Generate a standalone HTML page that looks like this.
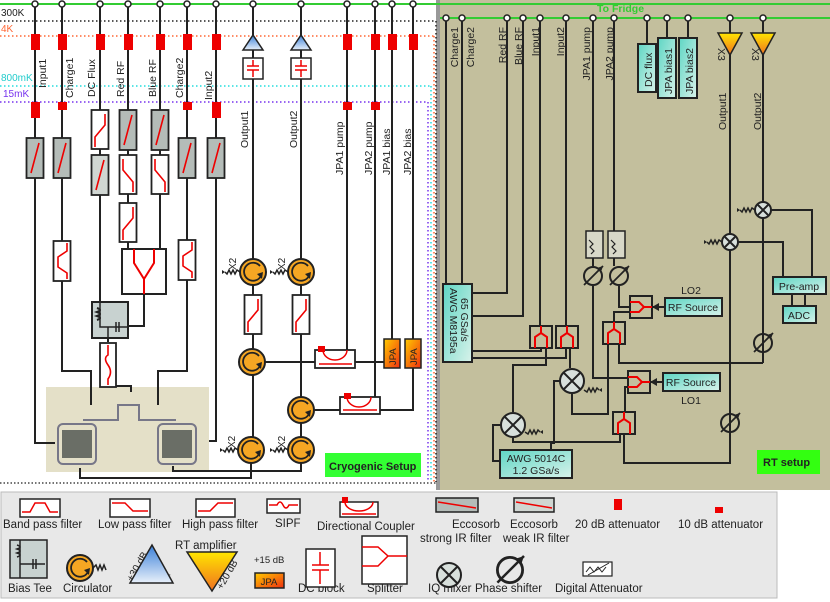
<!DOCTYPE html>
<html><head><meta charset="utf-8"><style>
html,body{margin:0;padding:0;background:#fff}
svg{display:block;font-family:"Liberation Sans",sans-serif}
</style></head><body>
<svg width="830" height="602" viewBox="0 0 830 602" xmlns="http://www.w3.org/2000/svg">
<defs>
<linearGradient id="teal" x1="0" y1="0" x2="1" y2="1"><stop offset="0" stop-color="#5fd6c4"/><stop offset="1" stop-color="#d8f2ea"/></linearGradient>
<linearGradient id="orng" x1="0" y1="0" x2="0" y2="1"><stop offset="0" stop-color="#ffe600"/><stop offset="1" stop-color="#f07020"/></linearGradient>
<linearGradient id="jpa" x1="0" y1="0" x2="1" y2="1"><stop offset="0" stop-color="#ffcc00"/><stop offset="1" stop-color="#f03010"/></linearGradient>
<linearGradient id="blue" x1="0" y1="0" x2="0" y2="1"><stop offset="0" stop-color="#3a80d8"/><stop offset="1" stop-color="#e8f0fa"/></linearGradient>
<g id="circ"><circle r="13" fill="#f5a623" stroke="#222" stroke-width="2"/><path d="M7,-6 A9,9 0 1 0 8,4" fill="none" stroke="#222" stroke-width="1.8"/><path d="M4,2 L9,7 L10,0 Z" fill="#222"/></g>
<g id="mix"><circle r="12" fill="#d8e0dc" stroke="#222" stroke-width="2"/><path d="M-8,-8 L8,8 M-8,8 L8,-8" stroke="#222" stroke-width="2"/></g>
<g id="mixs"><circle r="8" fill="#d8e0dc" stroke="#222" stroke-width="2"/><path d="M-5,-5 L5,5 M-5,5 L5,-5" stroke="#222" stroke-width="2"/></g>
<g id="ps"><circle r="9" fill="none" stroke="#222" stroke-width="2"/><path d="M-9,9 L10,-10" stroke="#222" stroke-width="1.8"/><path d="M10,-10 L4,-8 L8,-4 Z" fill="#222"/></g>
<g id="spl"><rect x="-11" y="-11" width="22" height="22" fill="none" stroke="#222" stroke-width="2"/><path d="M-6,11 L-6,0 L0,-4 L6,0 L6,11 M0,-4 L0,-11" fill="none" stroke="#e00" stroke-width="2"/></g>
<g id="splh"><rect x="-11" y="-11" width="22" height="22" fill="none" stroke="#222" stroke-width="2"/><path d="M-11,-5 L-2,-5 L3,0 L-2,5 L-11,5 M3,0 L11,0" fill="none" stroke="#e00" stroke-width="2"/></g>
<g id="eco"><rect x="-8.5" y="0" width="17" height="40" fill="#b4bcb8" stroke="#222" stroke-width="1.8"/><path d="M-4,35 L4,5" stroke="#e00" stroke-width="1.6"/></g>
<g id="ecow"><rect x="-8.5" y="0" width="17" height="40" fill="#d0d6d2" stroke="#222" stroke-width="1.8"/><path d="M-4,35 L4,5" stroke="#e00" stroke-width="1.6"/></g>
<g id="lpf"><rect x="-8.5" y="0" width="17" height="39" fill="#fff" stroke="#222" stroke-width="1.8"/><path d="M-5,4 L-5,15 L5,27 L5,37" fill="none" stroke="#e00" stroke-width="1.6"/></g>
<g id="hpf"><rect x="-8.5" y="0" width="17" height="39" fill="#fff" stroke="#222" stroke-width="1.8"/><path d="M5,4 L5,15 L-5,27 L-5,37" fill="none" stroke="#e00" stroke-width="1.6"/></g>
<g id="bpf"><rect x="-8.5" y="0" width="17" height="40" fill="#fff" stroke="#222" stroke-width="1.8"/><path d="M5,2 L5,10 L-4,16 L-4,26 L5,32 L5,38" fill="none" stroke="#e00" stroke-width="1.6"/></g>
<g id="node"><circle r="3" fill="#fff" stroke="#222" stroke-width="1.5"/></g>
<g id="term"><path d="M0,0 L-3,-2 L-5,2 L-7,-2 L-9,2 L-11,-2 L-13,2 L-15,0" fill="none" stroke="#222" stroke-width="1.5"/><path d="M-15,0 L-18,-2 L-18,2 Z" fill="#222"/></g>
</defs>

<rect x="440" y="0" width="390" height="490" fill="#c3bf9d"/>
<rect x="436" y="0" width="4" height="490" fill="#999"/>

<line x1="0" y1="4" x2="830" y2="4" stroke="#3c3" stroke-width="2"/>
<line x1="0" y1="21" x2="436" y2="21" stroke="#222" stroke-width="1.5" stroke-dasharray="1.5,2.5"/>
<line x1="0" y1="36" x2="434" y2="36" stroke="#f63" stroke-width="1.5" stroke-dasharray="1.5,2.5"/>
<line x1="0" y1="86" x2="431" y2="86" stroke="#2dd" stroke-width="1.5" stroke-dasharray="1.5,2.5"/>
<line x1="0" y1="102" x2="428" y2="102" stroke="#73e" stroke-width="1.5" stroke-dasharray="1.5,2.5"/>
<line x1="436" y1="21" x2="436" y2="482" stroke="#222" stroke-width="1.5" stroke-dasharray="1.5,2.5"/>
<line x1="434" y1="36" x2="434" y2="482" stroke="#f63" stroke-width="1.5" stroke-dasharray="1.5,2.5"/>
<line x1="431" y1="86" x2="431" y2="482" stroke="#2dd" stroke-width="1.5" stroke-dasharray="1.5,2.5"/>
<line x1="428" y1="102" x2="428" y2="482" stroke="#73e" stroke-width="1.5" stroke-dasharray="1.5,2.5"/>
<line x1="0" y1="483" x2="436" y2="483" stroke="#222" stroke-width="1.2" stroke-dasharray="1.5,2"/>
<text x="1" y="16" font-size="10" fill="#222">300K</text>
<text x="1" y="32" font-size="10" fill="#f63">4K</text>
<text x="1" y="81" font-size="10" fill="#2cc">800mK</text>
<text x="3" y="97" font-size="10" fill="#73e">15mK</text>

<rect x="46" y="387" width="163" height="85" fill="#e4e0c8"/>
<g fill="none" stroke="#778" stroke-width="2">
<rect x="58" y="424" width="38" height="40" rx="5"/><rect x="158" y="424" width="38" height="40" rx="5"/>
<path d="M83,420 L118,420 L118,405 L139,405 L139,420 L176,420"/>
</g>
<rect x="62" y="430" width="30" height="28" fill="#6a6e66"/><rect x="162" y="430" width="30" height="28" fill="#6a6e66"/>

<g fill="none" stroke="#222" stroke-width="2">
<path d="M35,4 V443 H55"/>
<path d="M62,4 V371 H91 V405"/>
<path d="M100,4 V302"/>
<path d="M128,4 V249"/><path d="M160,4 V249"/>
<path d="M144,294 V326 H110"/>
<path d="M108,338 V342 M108,387 V386 H131 V392"/>
<path d="M187,4 V371 H158 V405"/>
<path d="M216,4 V441 H209"/>
<path d="M253,4 V437"/><path d="M301,4 V437"/>
<path d="M347,4 V350"/><path d="M375,4 V397"/>
<path d="M392,4 V339"/><path d="M413,4 V339"/>
<path d="M265,362 H315 M355,362 H384"/>
<path d="M314,410 H340 M380,410 H413 V368"/>
<path d="M251,463 V478 H80 V468 M301,463 V471 H173 V466"/>
<path d="M301,385 V397 M301,423 V437"/>
</g>
<g>
<use href="#node" x="35" y="4"/><use href="#node" x="62" y="4"/><use href="#node" x="100" y="4"/><use href="#node" x="128" y="4"/><use href="#node" x="160" y="4"/><use href="#node" x="187" y="4"/><use href="#node" x="216" y="4"/><use href="#node" x="253" y="4"/><use href="#node" x="301" y="4"/><use href="#node" x="347" y="4"/><use href="#node" x="375" y="4"/><use href="#node" x="392" y="4"/><use href="#node" x="413" y="4"/>
</g>
<g fill="#e00">
<rect x="31" y="34" width="9" height="16"/><rect x="58" y="34" width="9" height="16"/><rect x="96" y="34" width="9" height="16"/><rect x="124" y="34" width="9" height="16"/><rect x="156" y="34" width="9" height="16"/><rect x="183" y="34" width="9" height="16"/><rect x="212" y="34" width="9" height="16"/><rect x="343" y="34" width="9" height="16"/><rect x="371" y="34" width="9" height="16"/><rect x="388" y="34" width="9" height="16"/><rect x="409" y="34" width="9" height="16"/>
<rect x="31" y="102" width="9" height="16"/><rect x="58" y="102" width="9" height="8"/><rect x="183" y="102" width="9" height="8"/><rect x="212" y="102" width="9" height="16"/><rect x="343" y="102" width="9" height="8"/><rect x="371" y="102" width="9" height="8"/>
</g>
<use href="#eco" x="35" y="138"/><use href="#eco" x="62" y="138"/><use href="#eco" x="187" y="138"/><use href="#eco" x="216" y="138"/>
<use href="#hpf" x="100" y="110"/><use href="#ecow" x="100" y="155"/>
<use href="#eco" x="128" y="110"/><use href="#lpf" x="128" y="155"/><use href="#hpf" x="128" y="203"/>
<use href="#eco" x="160" y="110"/><use href="#lpf" x="160" y="155"/>
<use href="#bpf" x="62" y="241"/><use href="#bpf" x="187" y="240"/>
<rect x="122" y="249" width="44" height="45" fill="#fff" stroke="#222" stroke-width="2"/>
<path d="M134,249 V263 L144,279 L154,263 V249 M144,279 V294" fill="none" stroke="#e00" stroke-width="2"/>
<rect x="92" y="302" width="36" height="36" fill="#c8d2d0" stroke="#222" stroke-width="2"/>
<path d="M100,302 V327 H128 M108,327 V338" fill="none" stroke="#222" stroke-width="1.5"/>
<path d="M97,308 q6,2 0,4 q6,2 0,4 q6,2 0,4" fill="none" stroke="#222" stroke-width="2"/>
<path d="M116,322 V332 M119,322 V332" stroke="#222" stroke-width="1.5"/>
<rect x="100" y="343" width="16" height="44" fill="#fff" stroke="#222" stroke-width="1.8"/>
<path d="M108,345 V355 q-5,3 0,10 q5,7 0,14 V385" fill="none" stroke="#e00" stroke-width="1.6"/>
<path d="M243,50 L253,35 L263,50 Z" fill="url(#blue)" stroke="#222" stroke-width="1.5"/>
<path d="M291,50 L301,35 L311,50 Z" fill="url(#blue)" stroke="#222" stroke-width="1.5"/>
<rect x="243" y="58" width="20" height="21" fill="#fff" stroke="#222" stroke-width="1.5"/>
<rect x="291" y="58" width="20" height="21" fill="#fff" stroke="#222" stroke-width="1.5"/>
<path d="M247,66 H259 M247,70 H259 M253,60 V66 M253,70 V77 M295,66 H307 M295,70 H307 M301,60 V66 M301,70 V77" stroke="#e00" stroke-width="1.5"/>
<use href="#term" x="240" y="272"/><use href="#term" x="288" y="272"/>
<use href="#circ" x="253" y="272"/><use href="#circ" x="301" y="272"/>
<use href="#hpf" x="253" y="295"/><use href="#hpf" x="301" y="295"/>
<use href="#circ" x="252" y="362"/><use href="#circ" x="301" y="410"/>
<use href="#term" x="238" y="450"/><use href="#term" x="288" y="450"/>
<use href="#circ" x="251" y="450"/><use href="#circ" x="301" y="450"/>
<g font-size="10" fill="#222">
<text transform="translate(236,270) rotate(-90)">X2</text>
<text transform="translate(285,270) rotate(-90)">X2</text>
<text transform="translate(235,448) rotate(-90)">X2</text>
<text transform="translate(285,448) rotate(-90)">X2</text>
</g>
<rect x="315" y="350" width="40" height="18" fill="#fff" stroke="#222" stroke-width="1.8"/>
<path d="M319,364 H352 M323,350 A12,10 0 0 0 347,350" fill="none" stroke="#e00" stroke-width="1.5"/><rect x="318" y="346" width="7" height="6" fill="#e00"/>
<rect x="340" y="397" width="40" height="17" fill="#fff" stroke="#222" stroke-width="1.8"/>
<path d="M343,410 H377 M347,397 A12,10 0 0 0 371,397" fill="none" stroke="#e00" stroke-width="1.5"/><rect x="344" y="393" width="7" height="6" fill="#e00"/>
<rect x="384" y="339" width="16" height="29" fill="url(#jpa)" stroke="#222" stroke-width="1.5"/>
<rect x="405" y="339" width="16" height="29" fill="url(#jpa)" stroke="#222" stroke-width="1.5"/>
<text transform="translate(396,365) rotate(-90)" font-size="9.5" fill="#222">JPA</text>
<text transform="translate(417,365) rotate(-90)" font-size="9.5" fill="#222">JPA</text>
<rect x="325" y="453" width="96" height="24" fill="#3f3"/>
<text x="329" y="470" font-size="11" font-weight="bold" fill="#222">Cryogenic Setup</text>

<g font-size="10.5" fill="#222">
<text transform="translate(46,88) rotate(-90)">Input1</text>
<text transform="translate(73,98) rotate(-90)">Charge1</text>
<text transform="translate(95,97) rotate(-90)">DC Flux</text>
<text transform="translate(124,97) rotate(-90)">Red RF</text>
<text transform="translate(156,97) rotate(-90)">Blue RF</text>
<text transform="translate(183,98) rotate(-90)">Charge2</text>
<text transform="translate(212,100) rotate(-90)">Input2</text>
<text transform="translate(248,148) rotate(-90)">Output1</text>
<text transform="translate(297,148) rotate(-90)">Output2</text>
<text transform="translate(343,175) rotate(-90)">JPA1 pump</text>
<text transform="translate(372,175) rotate(-90)">JPA2 pump</text>
<text transform="translate(390,175) rotate(-90)">JPA1 bias</text>
<text transform="translate(411,175) rotate(-90)">JPA2 bias</text>
</g>

<line x1="440" y1="18" x2="830" y2="18" stroke="#3c3" stroke-width="2"/>
<text x="597" y="12" font-size="10.5" font-weight="bold" fill="#3c3">To Fridge</text>
<g fill="none" stroke="#222" stroke-width="2">
<path d="M446,18 V284 M462,18 V284"/>
<path d="M507,18 V293 H472 M523,18 V316 H472"/>
<path d="M540,18 V326 M566,18 V326"/>
<path d="M472,351 H541 V348 M472,358 H566 V348"/>
<path d="M546,348 V365 H513 V412"/>
<path d="M570,348 V368"/>
<path d="M560,381 H554 V443 H551 V450"/>
<path d="M572,394 V414 H608 V345"/>
<path d="M513,438 V442 H620 V434"/>
<path d="M501,425 H493 V461 H500"/>
<path d="M593,18 V231 M593,258 V266 M593,286 V378 H628"/>
<path d="M614,18 V231 M614,258 V266"/><path d="M619,286 V307 H630"/>
<path d="M636,312 H614 V322"/>
<path d="M619,345 V363 H763"/>
<path d="M634,387 H625 V412"/>
<path d="M624,434 V463 H730 V55"/>
<path d="M763,18 V363"/>
<path d="M738,242 H783 V277 M771,210 H812 V277"/>
<path d="M792,294 V306 M805,294 V306"/>
<path d="M647,18 V44 M667,18 V38 M688,18 V38"/>
<path d="M730,18 V33 M763,18 V33"/>
<path d="M652,307 H665 M650,382 H663"/>
</g>
<g>
<use href="#node" x="446" y="18"/><use href="#node" x="462" y="18"/><use href="#node" x="507" y="18"/><use href="#node" x="523" y="18"/><use href="#node" x="540" y="18"/><use href="#node" x="566" y="18"/><use href="#node" x="593" y="18"/><use href="#node" x="614" y="18"/><use href="#node" x="647" y="18"/><use href="#node" x="667" y="18"/><use href="#node" x="688" y="18"/><use href="#node" x="730" y="18"/><use href="#node" x="763" y="18"/>
</g>
<rect x="638" y="44" width="18" height="48" fill="url(#teal)" stroke="#222" stroke-width="2"/>
<rect x="658" y="38" width="18" height="60" fill="url(#teal)" stroke="#222" stroke-width="2"/>
<rect x="679" y="38" width="18" height="60" fill="url(#teal)" stroke="#222" stroke-width="2"/>
<g font-size="10.5" fill="#222">
<text transform="translate(652,87) rotate(-90)">DC flux</text>
<text transform="translate(672,94) rotate(-90)">JPA bias1</text>
<text transform="translate(693,94) rotate(-90)">JPA bias2</text>
<text transform="translate(458,27) rotate(-90)" text-anchor="end">Charge1</text>
<text transform="translate(474,27) rotate(-90)" text-anchor="end">Charge2</text>
<text transform="translate(506,27) rotate(-90)" text-anchor="end">Red RF</text>
<text transform="translate(522,27) rotate(-90)" text-anchor="end">Blue RF</text>
<text transform="translate(539,27) rotate(-90)" text-anchor="end">Input1</text>
<text transform="translate(564,27) rotate(-90)" text-anchor="end">Input2</text>
<text transform="translate(590,27) rotate(-90)" text-anchor="end">JPA1 pump</text>
<text transform="translate(613,27) rotate(-90)" text-anchor="end">JPA2 pump</text>
<text transform="translate(726,130) rotate(-90)">Output1</text>
<text transform="translate(761,130) rotate(-90)">Output2</text>
<text transform="translate(718,48) rotate(90)">X3</text>
<text transform="translate(752,48) rotate(90)">X3</text>
</g>
<path d="M718,33 L742,33 L730,55 Z" fill="url(#orng)" stroke="#222" stroke-width="1.5"/>
<path d="M751,33 L775,33 L763,55 Z" fill="url(#orng)" stroke="#222" stroke-width="1.5"/>
<rect x="443" y="284" width="29" height="78" fill="url(#teal)" stroke="#222" stroke-width="2"/>
<text transform="translate(450,288) rotate(90)" font-size="10.5" fill="#222">AWG M8195a</text>
<text transform="translate(461,298) rotate(90)" font-size="10.5" fill="#222">65 GSa/s</text>
<rect x="500" y="450" width="72" height="28" fill="url(#teal)" stroke="#222" stroke-width="2"/>
<text x="536" y="462" font-size="10.5" fill="#222" text-anchor="middle">AWG 5014C</text>
<text x="536" y="474" font-size="10.5" fill="#222" text-anchor="middle">1.2 GSa/s</text>
<use href="#spl" x="541" y="337"/><use href="#spl" x="567" y="337"/>
<use href="#spl" x="614" y="333"/><use href="#spl" x="624" y="423"/>
<use href="#splh" x="641" y="307"/><use href="#splh" x="639" y="382"/>
<use href="#mix" x="572" y="381"/><use href="#mix" x="513" y="425"/>
<use href="#term" x="584" y="390" transform="rotate(180 584 390)"/>
<use href="#term" x="525" y="432" transform="rotate(180 525 432)"/>
<use href="#mixs" x="730" y="242"/><use href="#mixs" x="763" y="210"/>
<use href="#term" x="722" y="242"/><use href="#term" x="755" y="210"/>
<use href="#ps" x="593" y="276"/><use href="#ps" x="619" y="276"/>
<use href="#ps" x="763" y="343"/><use href="#ps" x="730" y="423"/>
<rect x="586" y="231" width="17" height="27" fill="#d8d8c8" stroke="#222" stroke-width="1.5"/>
<rect x="608" y="231" width="17" height="27" fill="#d8d8c8" stroke="#222" stroke-width="1.5"/>
<path d="M589,240 l4,4 l-3,3 l4,4 l-3,3 M611,240 l4,4 l-3,3 l4,4 l-3,3" fill="none" stroke="#222" stroke-width="1.2"/>
<rect x="665" y="298" width="57" height="18" fill="url(#teal)" stroke="#222" stroke-width="2"/>
<text x="693" y="311" font-size="10.5" text-anchor="middle" fill="#222">RF Source</text>
<rect x="663" y="373" width="57" height="18" fill="url(#teal)" stroke="#222" stroke-width="2"/>
<text x="691" y="386" font-size="10.5" text-anchor="middle" fill="#222">RF Source</text>
<text x="691" y="294" font-size="10.5" text-anchor="middle" fill="#222">LO2</text>
<text x="691" y="404" font-size="10.5" text-anchor="middle" fill="#222">LO1</text>
<path d="M652,307 l7,-4 v8 Z M650,382 l7,-4 v8 Z" fill="#222"/>
<rect x="773" y="277" width="53" height="17" fill="url(#teal)" stroke="#222" stroke-width="2"/>
<text x="799" y="290" font-size="10.5" text-anchor="middle" fill="#222">Pre-amp</text>
<rect x="783" y="306" width="33" height="17" fill="url(#teal)" stroke="#222" stroke-width="2"/>
<text x="799" y="319" font-size="10.5" text-anchor="middle" fill="#222">ADC</text>
<rect x="757" y="450" width="63" height="24" fill="#3f1"/>
<text x="763" y="466" font-size="11" font-weight="bold" fill="#222">RT setup</text>

<rect x="1" y="492" width="776" height="106" fill="#e8e8e8" stroke="#bbb"/>
<g fill="#fff" stroke="#222" stroke-width="1.5">
<rect x="20" y="499" width="40" height="18"/><rect x="110" y="499" width="40" height="18"/><rect x="196" y="499" width="39" height="18"/><rect x="267" y="499" width="33" height="14"/><rect x="340" y="502" width="38" height="15"/>
<rect x="436" y="498" width="42" height="14" fill="#b4bcb8"/><rect x="514" y="498" width="40" height="14" fill="#d0d6d2"/>
</g>
<g fill="none" stroke="#e00" stroke-width="1.5">
<path d="M22,512 H30 L35,503 H45 L50,512 H58"/>
<path d="M112,503 H125 L133,511 H148"/>
<path d="M198,511 H210 L218,503 H233"/>
<path d="M269,505 H277 q3,-6 6,0 t6,0 H298"/>
<path d="M342,514 H376 M345,502 A14,9 0 0 0 373,502"/>
<path d="M438,502 L476,508 M516,502 L552,508"/>
</g>
<rect x="342" y="497" width="6" height="6" fill="#e00"/>
<rect x="614" y="499" width="8" height="11" fill="#e00"/><rect x="715" y="507" width="8" height="6" fill="#e00"/>
<g font-size="11.5" fill="#222">
<text x="3" y="528">Band pass filter</text><text x="98" y="528">Low pass filter</text><text x="182" y="528">High pass filter</text><text x="275" y="527">SIPF</text><text x="317" y="530">Directional Coupler</text>
<text x="452" y="528">Eccosorb</text><text x="420" y="542">strong IR filter</text><text x="510" y="528">Eccosorb</text><text x="503" y="542">weak IR filter</text>
<text x="575" y="528">20 dB attenuator</text><text x="678" y="528">10 dB attenuator</text>
<text x="8" y="592">Bias Tee</text><text x="63" y="592">Circulator</text><text x="175" y="549">RT amplifier</text><text x="254" y="563" font-size="9.5">+15 dB</text>
<text x="298" y="592">DC block</text><text x="367" y="592">Splitter</text><text x="428" y="592">IQ mixer</text><text x="475" y="592">Phase shifter</text><text x="555" y="592">Digital Attenuator</text>
<text transform="translate(132,582) rotate(-60)" font-size="10">+30 dB</text>
<text transform="translate(222,590) rotate(-60)" font-size="10">+20 dB</text>
<text x="145" y="581" font-size="9">HEMT</text>
</g>
<rect x="10" y="540" width="37" height="38" fill="#c8d2d0" stroke="#222" stroke-width="1.5"/>
<path d="M20,540 V578 M20,564 H45 M33,559 V569 M36,559 V569" fill="none" stroke="#222" stroke-width="1.5"/>
<path d="M17,545 q6,2 0,4 q6,2 0,4 q6,2 0,4" fill="none" stroke="#222" stroke-width="1.5"/>
<use href="#circ" x="80" y="568"/><path d="M93,568 l3,-3 l2,5 l2,-5 l2,5 l2,-5 l2,5" fill="none" stroke="#222" stroke-width="1.5"/>
<path d="M130,583 L152,545 L173,583 Z" fill="url(#blue)" stroke="#222" stroke-width="1.5"/>
<path d="M187,552 L237,552 L212,591 Z" fill="url(#orng)" stroke="#222" stroke-width="1.5"/>
<rect x="255" y="573" width="29" height="15" fill="url(#jpa)" stroke="#222" stroke-width="1.5"/>
<text x="269" y="585" font-size="9.5" text-anchor="middle" fill="#222">JPA</text>
<rect x="306" y="549" width="29" height="38" fill="#fff" stroke="#222" stroke-width="1.5"/>
<path d="M312,565 H329 M312,570 H329 M320,552 V565 M320,570 V584" stroke="#e00" stroke-width="1.5"/>
<rect x="362" y="536" width="45" height="48" fill="#fff" stroke="#222" stroke-width="1.5"/>
<path d="M362,547 H378 L388,556 L378,566 H362 M388,556 H407" fill="none" stroke="#e00" stroke-width="1.5"/>
<use href="#mix" x="449" y="575"/>
<g transform="translate(510,570) scale(1.4)"><use href="#ps"/></g>
<rect x="583" y="562" width="29" height="14" fill="#fff" stroke="#222" stroke-width="1.2"/>
<path d="M586,572 l4,-5 l4,5 l4,-5 l4,5 l4,-5 M588,575 L609,563" fill="none" stroke="#222" stroke-width="1"/>
</svg>
</body></html>
